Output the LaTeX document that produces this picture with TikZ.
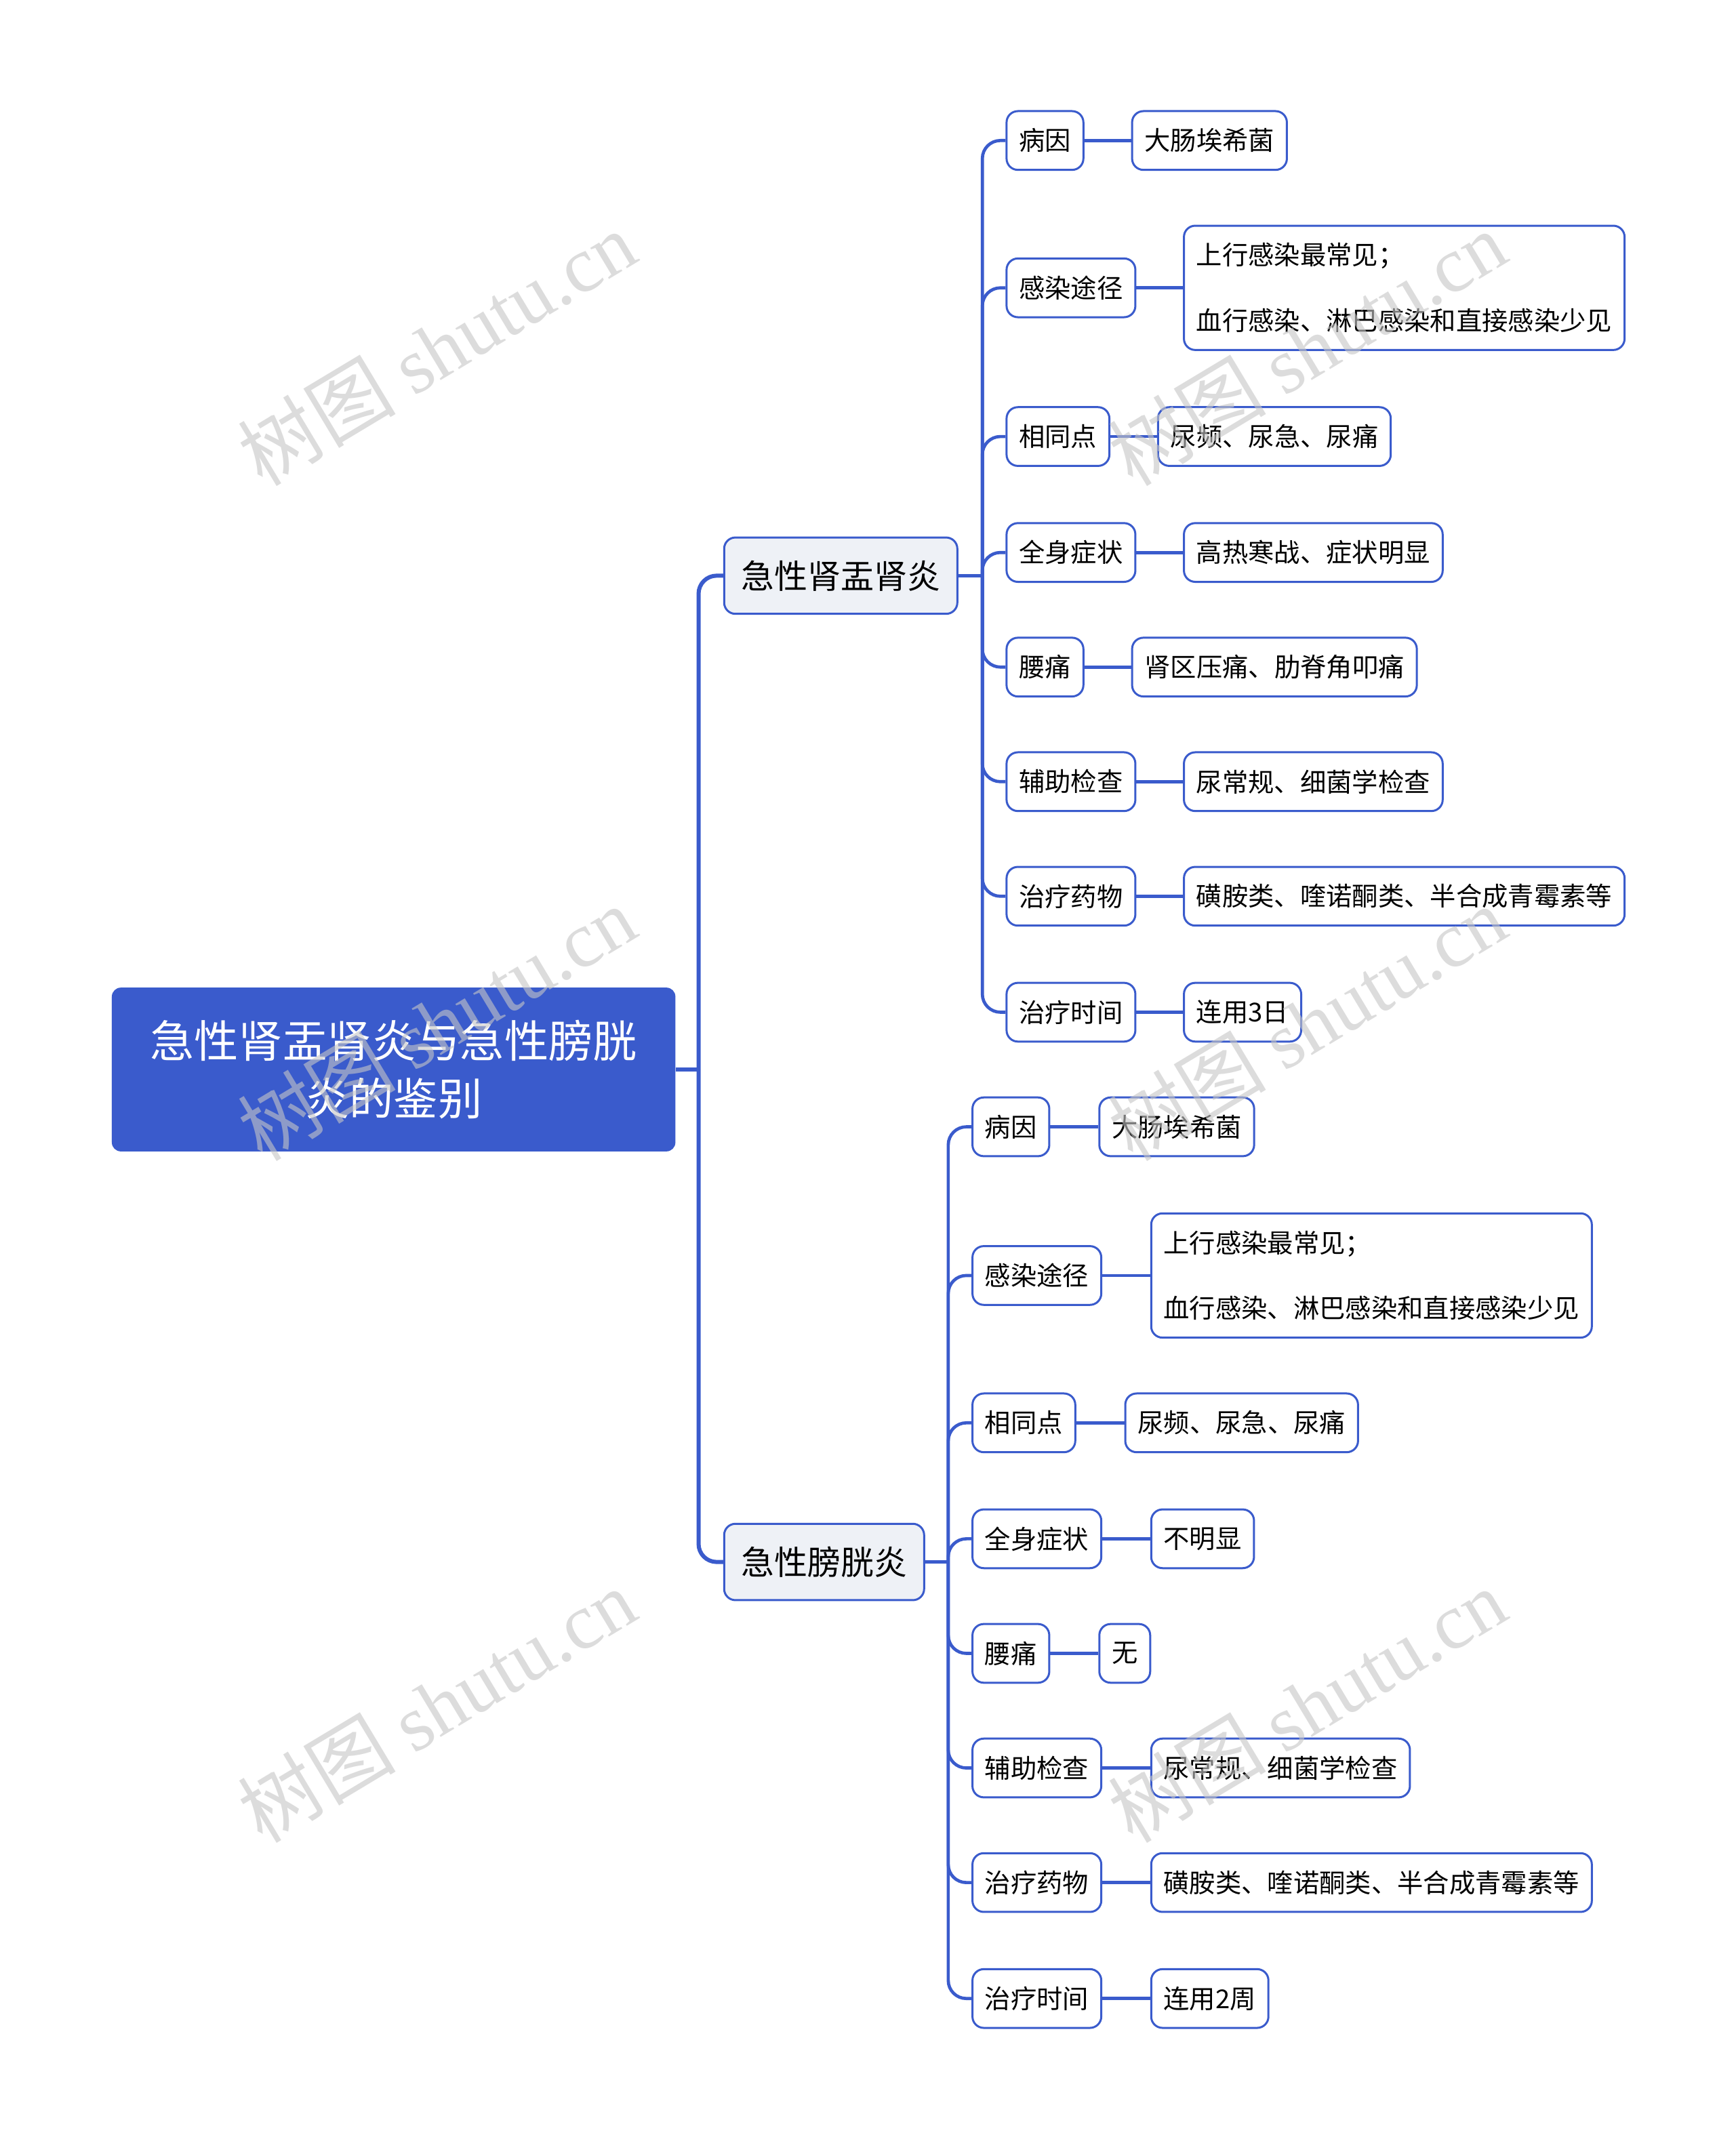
\documentclass[tikz,border=0pt]{standalone}
\usepackage{fontspec}
\setmainfont{Noto Sans CJK SC}
\newfontfamily\wmlatin{Liberation Serif}
\newfontfamily\wmcjk{Noto Sans CJK SC}
\definecolor{mainblue}{HTML}{3A5BCC}
\definecolor{catfill}{HTML}{EEF1F6}
\begin{document}
\begin{tikzpicture}[x=0.60378pt,y=-0.60378pt]
\tikzset{
  trunk/.style={draw=mainblue, line width=1.8pt, rounded corners=8},
  conn/.style={draw=mainblue, line width=1.4pt, rounded corners=8},
  rootbox/.style={fill=mainblue, rounded corners=4pt, text=white,
    font=\fontsize{19.6pt}{25.4pt}\selectfont, align=center,
    minimum width=249.4pt, minimum height=72.5pt, inner sep=0pt},
  catbox/.style={draw=mainblue, fill=catfill, line width=0.9pt, rounded corners=5pt,
    font=\fontsize{14.7pt}{18pt}\selectfont, minimum height=33.8pt,
    inner xsep=7.5pt, inner ysep=0pt, anchor=west},
  itembox/.style={draw=mainblue, fill=white, line width=0.9pt, rounded corners=5pt,
    font=\fontsize{11.5pt}{14pt}\selectfont, minimum height=26pt,
    inner xsep=5.5pt, inner ysep=0pt, anchor=west},
  multibox/.style={itembox, align=left, minimum height=55pt},
  wm/.style={text=gray!45, opacity=0.6, rotate=31, font=\fontsize{35pt}{35pt}\selectfont}
}
\useasboundingbox (0,0) rectangle (1272,1568);
\fill[white] (0,0) rectangle (1272,1568);

% root and categories
\node[rootbox] (root) at (288.5,784) {急性肾盂肾炎与急性膀胱\\炎的鉴别};
\node[catbox] (A) at (530,422) {急性肾盂肾炎};
\node[catbox] (B) at (530,1145) {急性膀胱炎};
\coordinate (t0) at (512,784);
\draw[trunk] (root.east) -- (t0);
\draw[trunk] (t0) |- (A.west);
\draw[trunk] (t0) |- (B.west);

% group A
\node[itembox] (a1) at (737,103) {病因};
\node[itembox] (a2) at (737,211) {感染途径};
\node[itembox] (a3) at (737,320) {相同点};
\node[itembox] (a4) at (737,405) {全身症状};
\node[itembox] (a5) at (737,489) {腰痛};
\node[itembox] (a6) at (737,573) {辅助检查};
\node[itembox] (a7) at (737,657) {治疗药物};
\node[itembox] (a8) at (737,742) {治疗时间};
\node[itembox] (al1) at (829,103) {大肠埃希菌};
\node[multibox] (al2) at (867,211) {上行感染最常见；\\[15pt]血行感染、淋巴感染和直接感染少见};
\node[itembox] (al3) at (848,320) {尿频、尿急、尿痛};
\node[itembox] (al4) at (867,405) {高热寒战、症状明显};
\node[itembox] (al5) at (829,489) {肾区压痛、肋脊角叩痛};
\node[itembox] (al6) at (867,573) {尿常规、细菌学检查};
\node[itembox] (al7) at (867,657) {磺胺类、喹诺酮类、半合成青霉素等};
\node[itembox] (al8) at (867,742) {连用3日};
\coordinate (tA) at (720,422);
\draw[conn] (A.east) -- (tA);
\foreach \i in {1,...,8} {
  \draw[conn] (tA) |- (a\i.west);
  \draw[conn] (a\i.east) -- (al\i.west);
}

% group B
\node[itembox] (b1) at (712,826) {病因};
\node[itembox] (b2) at (712,935) {感染途径};
\node[itembox] (b3) at (712,1043) {相同点};
\node[itembox] (b4) at (712,1128) {全身症状};
\node[itembox] (b5) at (712,1212) {腰痛};
\node[itembox] (b6) at (712,1296) {辅助检查};
\node[itembox] (b7) at (712,1380) {治疗药物};
\node[itembox] (b8) at (712,1465) {治疗时间};
\node[itembox] (bl1) at (805,826) {大肠埃希菌};
\node[multibox] (bl2) at (843,935) {上行感染最常见；\\[15pt]血行感染、淋巴感染和直接感染少见};
\node[itembox] (bl3) at (824,1043) {尿频、尿急、尿痛};
\node[itembox] (bl4) at (843,1128) {不明显};
\node[itembox] (bl5) at (805,1212) {无};
\node[itembox] (bl6) at (843,1296) {尿常规、细菌学检查};
\node[itembox] (bl7) at (843,1380) {磺胺类、喹诺酮类、半合成青霉素等};
\node[itembox] (bl8) at (843,1465) {连用2周};
\coordinate (tB) at (695,1145);
\draw[conn] (B.east) -- (tB);
\foreach \i in {1,...,8} {
  \draw[conn] (tB) |- (b\i.west);
  \draw[conn] (b\i.east) -- (bl\i.west);
}

% watermarks
\foreach \wx/\wy/\wn in {320/255/w1, 320/750/w2, 320/1250/w3, 958/255/w4, 958/750/w5, 958/1250/w6} {
  \node[wm] (\wn) at (\wx,\wy) {{\wmcjk 树图} {\wmlatin shutu.cn}};
}
\end{tikzpicture}
\end{document}
